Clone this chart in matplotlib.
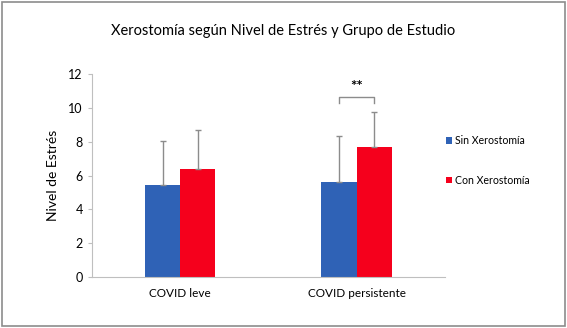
import numpy as np
import matplotlib.pyplot as plt
from matplotlib.patches import Rectangle

plt.rcParams['font.family'] = ['Lato', 'DejaVu Sans']

groups = ['COVID leve', 'COVID persistente']
series = ['Sin Xerostomía', 'Con Xerostomía']
sin_mean = [5.45, 5.62]
sin_sd = [2.6, 2.73]
con_mean = [6.37, 7.72]
con_sd = [2.33, 2.02]
colors = ['#2F62B6', '#F5001C']

fig = plt.figure(figsize=(5.67, 3.28), dpi=100)
ax = fig.add_axes([0.162, 0.155, 0.623, 0.619])

x = np.arange(len(groups))
w = 0.2
err_kw = dict(ecolor='#8C8C8C', elinewidth=1, capsize=2, capthick=1)
ax.bar(x - w / 2, sin_mean, w, color=colors[0], label=series[0],
       yerr=[np.zeros(2), sin_sd], error_kw=err_kw, zorder=2)
ax.bar(x + w / 2, con_mean, w, color=colors[1], label=series[1],
       yerr=[np.zeros(2), con_sd], error_kw=err_kw, zorder=2)

# significance bracket over COVID persistente
bx0, bx1 = x[1] - w / 2, x[1] + w / 2
ax.plot([bx0, bx0, bx1, bx1], [10.3, 10.62, 10.62, 10.3], color='#8C8C8C', lw=1)
ax.text(x[1], 10.85, '**', ha='center', va='bottom', fontsize=11, fontweight='bold')

ax.set_xlim(-0.5, 1.5)
ax.set_ylim(0, 12)
ax.set_yticks(range(0, 13, 2))
ax.set_xticks(x)
ax.set_xticklabels(groups, fontsize=8.5)
ax.tick_params(axis='y', labelsize=9, length=3, color='#BFBFBF')
ax.tick_params(axis='x', length=0, pad=8)
for s in ['top', 'right']:
    ax.spines[s].set_visible(False)
for s in ['left', 'bottom']:
    ax.spines[s].set_color('#BFBFBF')
ax.set_ylabel('Nivel de Estrés', fontsize=10, labelpad=7)

fig.text(0.5, 0.905, 'Xerostomía según Nivel de Estrés y Grupo de Estudio',
         ha='center', va='center', fontsize=10.5)

ax.legend(loc='upper left', bbox_to_anchor=(0.99, 0.72), frameon=False,
          fontsize=7.6, handlelength=0.6, handleheight=0.6, handletextpad=0.3,
          labelspacing=2.7, borderaxespad=0)

fig.patches.append(Rectangle((0.004, 0.006), 0.992, 0.988, transform=fig.transFigure,
                             fill=False, edgecolor='#8C8C8C', lw=1.2))

fig.savefig('out.png', dpi=100)
